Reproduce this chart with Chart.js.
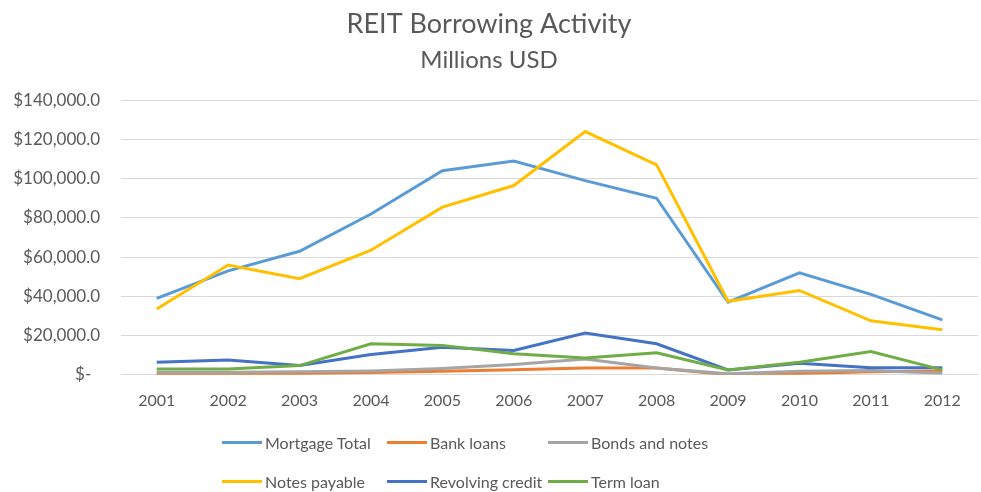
<!DOCTYPE html>
<html>
<head>
<meta charset="utf-8">
<script src="https://cdn.jsdelivr.net/npm/chart.js@4"></script>
<style>
  html, body { margin: 0; padding: 0; background: #fff; }
  #wrap { position: relative; width: 981px; height: 492px; }
  #legend {
    position: absolute; left: 0; top: 0; width: 981px; height: 492px;
    pointer-events: none; font-family: Lato, "Open Sans", sans-serif;
    font-size: 16px; color: #595959;
  }
  .item { position: absolute; display: flex; align-items: center; height: 20px; white-space: nowrap; }
  .swatch { width: 40px; height: 3px; margin-right: 3px; }
</style>
</head>
<body>
<div id="wrap">
  <canvas id="chart" width="981" height="492"></canvas>
  <div id="legend"></div>
</div>
<script>
const years = ["2001", "2002", "2003", "2004", "2005", "2006", "2007", "2008", "2009", "2010", "2011", "2012"];

const mortgageTotal = [39000, 53000, 63000, 82000, 104000, 109000, 99000, 90000, 37000, 52000, 41000, 28000];
const bankLoans = [400, 500, 700, 1200, 1800, 2600, 3500, 3500, 0, 700, 1500, 2000];
const bondsAndNotes = [1300, 1300, 1500, 2000, 3200, 5200, 8000, 3500, 500, 1800, 2200, 800];
const notesPayable = [33500, 56000, 49000, 63500, 85500, 96500, 124000, 107000, 37500, 43000, 27500, 23000];
const revolvingCredit = [6400, 7600, 4700, 10300, 14000, 12400, 21300, 15800, 2500, 5900, 3600, 3600];
const termLoan = [3000, 3000, 4700, 15800, 15000, 10700, 8600, 11200, 2500, 6400, 11900, 2500];

const seriesNames = ["Mortgage Total", "Bank loans", "Bonds and notes", "Notes payable", "Revolving credit", "Term loan"];
const seriesData = [mortgageTotal, bankLoans, bondsAndNotes, notesPayable, revolvingCredit, termLoan];
const seriesColors = ["#5b9bd5", "#ed7d31", "#a5a5a5", "#ffc000", "#4472c4", "#70ad47"];

// legend grid, Excel style (3 per row)
const legendCols = [222, 387, 548];
const legendRows = [432, 471];

const FONT = "Lato, 'Open Sans', sans-serif";
const TEXT = "#595959";
const GRID = "#d9d9d9";

const fmtMoney = (v) => {
  if (v === 0) return "$-  ";
  return "$" + new Intl.NumberFormat("en-US", { minimumFractionDigits: 1, maximumFractionDigits: 1 }).format(v);
};

const datasets = seriesNames.map((name, i) => ({
  label: name,
  data: seriesData[i],
  borderColor: seriesColors[i],
  backgroundColor: seriesColors[i],
  borderWidth: 3,
  pointRadius: 0,
  tension: 0,
  order: seriesNames.length - i, // later series on top, like Excel
}));

const chart = new Chart(document.getElementById("chart").getContext("2d"), {
  type: "line",
  data: { labels: years, datasets },
  options: {
    responsive: false,
    animation: false,
    layout: { padding: { left: 0, right: 3, top: 0, bottom: 66 } },
    plugins: {
      legend: { display: false },
      tooltip: { enabled: false },
      title: {
        display: true,
        text: "REIT Borrowing Activity",
        color: TEXT,
        font: { family: FONT, size: 27, weight: "normal" },
        padding: { top: 8, bottom: 5 },
      },
      subtitle: {
        display: true,
        text: "Millions USD",
        color: TEXT,
        font: { family: FONT, size: 24, weight: "normal" },
        padding: { top: 0, bottom: 26 },
      },
    },
    scales: {
      x: {
        offset: true,
        grid: { display: false, drawTicks: false },
        border: { display: false },
        ticks: { color: TEXT, font: { family: FONT, size: 16 }, padding: 16, maxRotation: 0 },
      },
      y: {
        min: 0,
        max: 140000,
        grid: { color: GRID, lineWidth: 1, drawTicks: false },
        border: { display: false },
        ticks: {
          stepSize: 20000,
          color: TEXT,
          font: { family: FONT, size: 17 },
          padding: 21,
          callback: (v) => fmtMoney(v),
        },
        afterFit: (scale) => { scale.width = 121; },
      },
    },
  },
});

const legendEl = document.getElementById("legend");
seriesNames.forEach((name, i) => {
  const item = document.createElement("div");
  item.className = "item";
  item.style.left = legendCols[i % 3] + "px";
  item.style.top = legendRows[Math.floor(i / 3)] + "px";
  item.innerHTML = `<span class="swatch" style="background:${seriesColors[i]}"></span><span>${name}</span>`;
  legendEl.appendChild(item);
});
</script>
</body>
</html>
